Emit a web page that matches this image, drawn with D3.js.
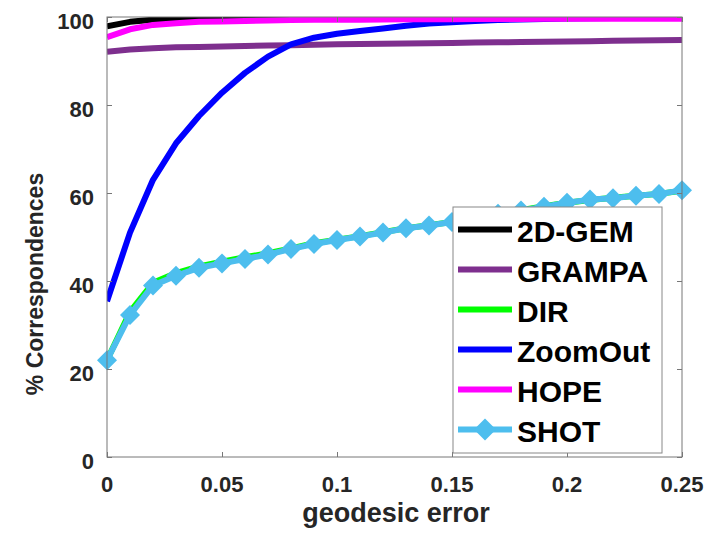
<!DOCTYPE html>
<html><head><meta charset="utf-8">
<script src="https://cdn.jsdelivr.net/npm/d3@7"></script>
<style>body{margin:0;background:#fff}svg{display:block}text{font-family:"Liberation Sans",Arial,sans-serif;font-weight:bold;fill:#262626}</style>
</head><body><svg id="c" width="723" height="533"></svg>
<script>
const xValues = [0,0.01,0.02,0.03,0.04,0.05,0.06,0.07,0.08,0.09,0.10,0.11,0.12,0.13,0.14,0.15,0.16,0.17,0.18,0.19,0.20,0.21,0.22,0.23,0.24,0.25];
const gem2d  = [97.9,98.9,99.4,99.6,99.7,99.75,99.8,99.85,99.9,99.9,99.9,99.95,99.95,99.95,100,100,100,100,100,100,100,100,100,100,100,100];
const grampa = [92.1,92.6,92.9,93.1,93.2,93.3,93.4,93.5,93.6,93.7,93.8,93.85,93.9,94.0,94.05,94.1,94.2,94.25,94.3,94.4,94.45,94.5,94.6,94.65,94.7,94.8];
const dir    = [22,33,39.6,41.8,43.3,44.4,45.4,46.3,47.4,48.6,49.4,50.2,51.1,52.0,52.7,53.4,54.3,55.2,56.1,57.0,57.8,58.4,58.9,59.4,59.8,60.5];
const zoomout= [35.4,51,63,71.3,77.5,82.8,87.3,91,93.8,95.3,96.2,96.8,97.4,98,98.5,98.8,99.1,99.3,99.45,99.55,99.65,99.7,99.75,99.8,99.8,99.85];
const hope   = [95.4,97.2,98.2,98.6,98.9,99.0,99.1,99.2,99.3,99.35,99.4,99.4,99.45,99.5,99.5,99.5,99.55,99.55,99.55,99.6,99.6,99.6,99.6,99.6,99.6,99.6];
const shot   = [22,32.3,39,41.2,43,44,45,46,47.3,48.4,49.3,50.1,51,52,52.6,53.4,54.2,55.3,56,56.9,57.8,58.5,58.8,59.4,59.8,60.6];
const seriesNames = ["2D-GEM","GRAMPA","DIR","ZoomOut","HOPE","SHOT"];
const xTicks = [0,0.05,0.1,0.15,0.2,0.25];
const xTickLabels = ["0","0.05","0.1","0.15","0.2","0.25"];
const yTicks = [0,20,40,60,80,100];

const colors = ["#000000","#7E2F8E","#00FF00","#0000FF","#FF00FF","#4DBEEE"];
const allSeries = [gem2d,grampa,dir,zoomout,hope,shot];

const L=107,R=682,T=17,B=457;
const svg=d3.select("#c");
const x=d3.scaleLinear().domain([0,0.25]).range([L,R]);
const y=d3.scaleLinear().domain([0,100]).range([B,T]);

svg.append("defs").append("clipPath").attr("id","clip").append("rect").attr("x",L).attr("y",T).attr("width",R-L).attr("height",B-T);

const line=d3.line().x((d,i)=>x(xValues[i])).y(d=>y(d));
const g=svg.append("g").attr("clip-path","url(#clip)");
allSeries.forEach((s,k)=>{
  g.append("path").datum(s).attr("d",line).attr("fill","none").attr("stroke",colors[k]).attr("stroke-width",6).attr("stroke-linejoin","round");
});
const diamond=(cx,cy,r)=>`M${cx},${cy-r}L${cx+r},${cy}L${cx},${cy+r}L${cx-r},${cy}Z`;
svg.append("g").selectAll("path").data(shot).join("path")
  .attr("d",(d,i)=>diamond(x(xValues[i]),y(d),10)).attr("fill",colors[5]);

// axes box
const ax=svg.append("g");
const axc="#777";
ax.append("rect").attr("x",L).attr("y",T).attr("width",R-L).attr("height",B-T).attr("fill","none").attr("stroke",axc).attr("stroke-width",1);
const xa=d3.axisBottom(x).tickValues(xTicks).tickSize(-5).tickFormat("");
const xt=d3.axisTop(x).tickValues(xTicks).tickSize(-5).tickFormat("");
const ya=d3.axisLeft(y).tickValues(yTicks).tickSize(-5).tickFormat("");
const yr=d3.axisRight(y).tickValues(yTicks).tickSize(-5).tickFormat("");
[[xa,`translate(0,${B})`],[xt,`translate(0,${T})`],[ya,`translate(${L},0)`],[yr,`translate(${R},0)`]].forEach(([a,t])=>{
  const gg=ax.append("g").attr("transform",t).call(a);
  gg.select(".domain").remove();
  gg.selectAll("line").attr("stroke",axc);
});
// tick labels
ax.selectAll(".xl").data(xTicks).join("text").attr("x",d=>x(d)).attr("y",492)
  .attr("text-anchor","middle").attr("font-size",22).text((d,i)=>xTickLabels[i]);
ax.selectAll(".yl").data(yTicks).join("text").attr("x",94).attr("y",d=>y(d)+12)
  .attr("text-anchor","end").attr("font-size",22).text(d=>d);
svg.append("text").attr("x",396).attr("y",522).attr("text-anchor","middle").attr("font-size",27).text("geodesic error");
svg.append("text").attr("transform","translate(43,284) rotate(-90)").attr("text-anchor","middle").attr("font-size",23).text("% Correspondences");

// legend
const lg=svg.append("g");
lg.append("rect").attr("x",453).attr("y",207).attr("width",209).attr("height",246).attr("fill","#fff").attr("stroke","#888").attr("stroke-width",1);
seriesNames.forEach((n,k)=>{
  const by=242+k*40;
  lg.append("line").attr("x1",458).attr("x2",512).attr("y1",by-12.5).attr("y2",by-12.5).attr("stroke",colors[k]).attr("stroke-width",6);
  if(k===5) lg.append("path").attr("d",diamond(485,by-12.5,11)).attr("fill",colors[5]);
  lg.append("text").attr("x",517).attr("y",by).attr("font-size",30).style("fill","#000").text(n);
});
</script></body></html>
